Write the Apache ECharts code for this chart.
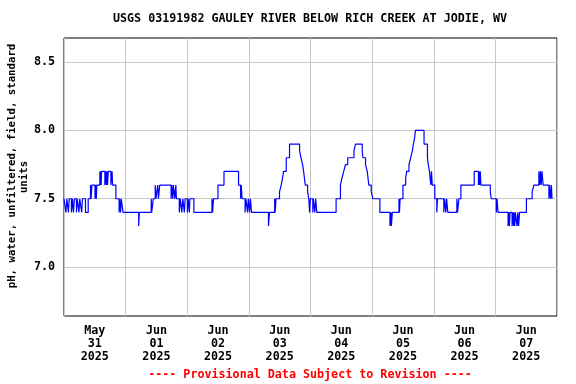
<!DOCTYPE html>
<html>
<head>
<meta charset="utf-8">
<script src="https://cdn.jsdelivr.net/npm/echarts@6/dist/echarts.min.js"></script>
<style>
html,body{margin:0;padding:0;background:#fff;}
#chart{width:576px;height:384px;}
</style>
</head>
<body>
<div id="chart"></div>
<script>
// Hours since 2025-05-31 00:00 at which the reading changes (step data)
const pHHours = [
0.00,0.74,1.13,1.72,2.03,2.89,3.28,3.67,4.07,4.85,5.16,5.82,6.14,6.88,7.19,8.37,9.42,
10.32,10.55,10.87,12.08,12.27,12.59,12.78,13.96,14.15,14.35,14.46,14.62,15.91,16.30,16.50,
16.69,16.93,17.24,18.26,18.72,18.92,20.21,21.46,21.66,22.05,22.28,23.02,29.08,29.32,
33.97,34.17,34.75,35.53,35.81,36.51,36.78,37.29,41.71,41.98,42.37,42.61,43.16,43.55,43.78,
44.91,45.31,45.89,46.28,46.87,47.18,48.04,48.35,48.82,49.02,50.58,57.62,57.89,58.21,
59.97,62.31,67.98,68.76,69.03,69.35,70.52,70.83,71.50,71.77,72.28,72.59,73.06,79.63,80.02,
82.05,82.25,82.56,83.93,84.59,85.10,85.49,86.55,87.84,91.75,92.29,92.92,93.31,93.97,94.87,
95.34,95.65,95.93,96.90,97.10,97.69,98.00,98.47,105.97,107.66,108.24,108.94,109.61,110.51,
112.93,113.52,116.14,116.45,117.43,118.09,118.72,119.66,120.28,123.02,126.93,127.32,127.51,
127.87,130.45,130.64,130.91,132.01,133.06,133.46,134.35,135.02,135.68,136.07,136.58,136.86,
140.22,141.55,141.86,142.33,142.84,143.11,143.42,144.40,145.18,145.46,147.92,148.23,148.70,
149.01,149.48,153.00,153.27,153.78,154.56,159.76,161.40,161.60,161.87,162.11,162.38,166.02,
166.41,168.36,168.64,169.03,172.94,173.21,173.45,173.72,174.50,174.77,175.09,175.28,175.56,
175.79,176.45,176.73,177.04,177.43,180.09,182.32,182.98,184.94,185.25,185.56,185.84,186.15,
186.62,188.85,189.08,189.48,189.82,190.06,190.14
];
const pHValues = [
7.5,7.4,7.5,7.4,7.5,7.4,7.5,7.4,7.5,7.4,7.5,7.4,7.5,7.4,7.5,7.4,7.5,
7.6,7.5,7.6,7.5,7.6,7.5,7.6,7.7,7.6,7.7,7.6,7.7,7.6,7.7,7.6,
7.7,7.6,7.7,7.6,7.7,7.6,7.5,7.4,7.5,7.4,7.5,7.4,7.3,7.4,
7.5,7.4,7.5,7.6,7.5,7.6,7.5,7.6,7.5,7.6,7.5,7.6,7.5,7.6,7.5,
7.4,7.5,7.4,7.5,7.4,7.5,7.4,7.5,7.4,7.5,7.4,7.5,7.4,7.5,
7.6,7.7,7.6,7.5,7.6,7.5,7.4,7.5,7.4,7.5,7.4,7.5,7.4,7.3,7.4,
7.5,7.4,7.5,7.55,7.6,7.65,7.7,7.8,7.9,7.85,7.8,7.75,7.7,7.6,7.55,
7.5,7.4,7.5,7.4,7.5,7.4,7.5,7.4,7.5,7.6,7.65,7.7,7.75,7.8,
7.85,7.9,7.85,7.8,7.75,7.7,7.6,7.55,7.5,7.4,7.3,7.4,7.3,
7.4,7.5,7.4,7.5,7.6,7.65,7.7,7.75,7.8,7.85,7.9,7.95,8.0,
7.9,7.8,7.75,7.7,7.6,7.7,7.6,7.5,7.4,7.5,7.4,7.5,7.4,
7.5,7.4,7.5,7.4,7.5,7.6,7.7,7.6,7.7,7.6,7.7,7.6,7.55,
7.5,7.4,7.5,7.4,7.3,7.4,7.3,7.4,7.3,7.4,7.3,7.4,7.3,
7.4,7.3,7.4,7.3,7.4,7.5,7.55,7.6,7.7,7.6,7.7,7.6,7.7,
7.6,7.5,7.6,7.5,7.6,7.5,7.5
];
const dayLabels = ['May\n31\n2025','Jun\n01\n2025','Jun\n02\n2025','Jun\n03\n2025','Jun\n04\n2025','Jun\n05\n2025','Jun\n06\n2025','Jun\n07\n2025'];
const dayLines = [0,24,48,72,96,120,144,168,192];
const dayLabelPos = [12,36,60,84,108,132,156,180];
const yTicks = [7.0,7.5,8.0,8.5];
const titleText = 'USGS 03191982 GAULEY RIVER BELOW RICH CREEK AT JODIE, WV';
const footerText = '---- Provisional Data Subject to Revision ----';
const yNameLine1 = 'pH, water, unfiltered, field, standard';
const yNameLine2 = 'units';

const FONT = 'DejaVu Sans Mono';
const chart = echarts.init(document.getElementById('chart'), null, {renderer:'canvas'});
const option = {
  animation: false,
  backgroundColor: '#fff',
  grid: {left: 64, right: 19, top: 38, bottom: 68, containLabel: false, outerBoundsMode: 'none',
         show: true, borderColor: '#000', borderWidth: 1, backgroundColor: 'transparent'},
  xAxis: {
    type: 'value', min: 0, max: 192,
    axisLine: {show: false},
    axisTick: {show: false, customValues: dayLines},
    splitLine: {show: true, lineStyle: {color: '#c8c8c8', width: 1}},
    axisLabel: {
      customValues: dayLabelPos,
      formatter: function (v) { return dayLabels[Math.round((v - 12) / 24)]; },
      fontFamily: FONT, fontWeight: 'bold', fontSize: 11.7, lineHeight: 13, color: '#000', margin: 8
    }
  },
  yAxis: {
    type: 'value', min: 6.642, max: 8.676,
    axisLine: {show: false},
    axisTick: {show: false, customValues: yTicks},
    splitLine: {show: true, lineStyle: {color: '#c8c8c8', width: 1}},
    axisLabel: {
      customValues: yTicks,
      formatter: function (v) { return v.toFixed(1); },
      fontFamily: FONT, fontWeight: 'bold', fontSize: 11.7, color: '#000', margin: 9
    },
    name: '{a|' + yNameLine1 + '}\n{b|' + yNameLine2 + '}', nameLocation: 'middle', nameRotate: 90, nameGap: 34,
    nameMoveOverlap: false,
    nameTextStyle: {
      fontFamily: FONT, fontWeight: 'bold', fontSize: 10.7, lineHeight: 12, color: '#000',
      rich: {
        a: {fontFamily: FONT, fontWeight: 'bold', fontSize: 10.7, lineHeight: 12, color: '#000', padding: [0, 0, 0, 22]},
        b: {fontFamily: FONT, fontWeight: 'bold', fontSize: 10.7, lineHeight: 12, color: '#000'}
      }
    }
  },
  graphic: [
    {type: 'text', x: 310, y: 19, style: {text: titleText, align: 'center', verticalAlign: 'middle', fontFamily: FONT, fontWeight: 'bold', fontSize: 11.7, fill: '#000'}},
    {type: 'text', x: 310, y: 375, style: {text: footerText, align: 'center', verticalAlign: 'middle', fontFamily: FONT, fontWeight: 'bold', fontSize: 11.7, fill: '#ff0000'}}
  ],
  series: [{
    type: 'line', step: 'end', showSymbol: false, symbol: 'none',
    lineStyle: {color: '#0000ff', width: 1.2},
    data: pHHours.map(function (h, i) { return [h, pHValues[i]]; })
  }]
};
chart.setOption(option);
</script>
</body>
</html>
